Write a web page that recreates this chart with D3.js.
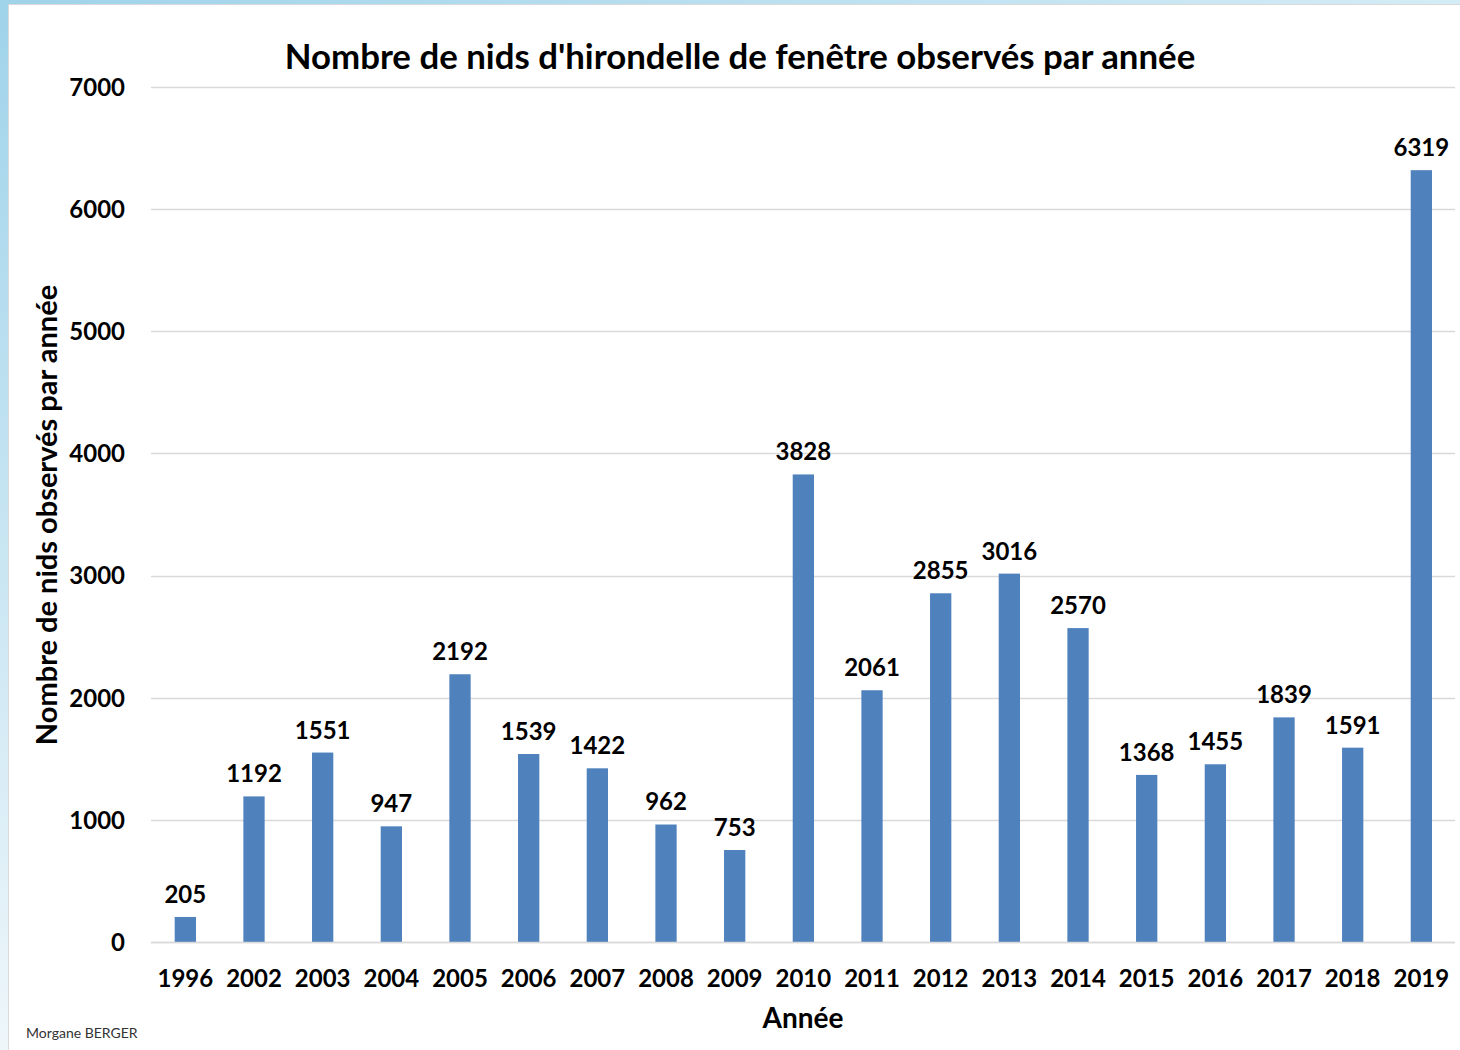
<!DOCTYPE html>
<html><head><meta charset="utf-8">
<script src="https://cdn.jsdelivr.net/npm/d3@7"></script>
<style>
html,body{margin:0;padding:0;}
body{width:1460px;height:1050px;overflow:hidden;background:#fff;}
</style></head>
<body>
<svg id="c" width="1460" height="1050"></svg>
<script>
const years = ["1996","2002","2003","2004","2005","2006","2007","2008","2009","2010","2011","2012","2013","2014","2015","2016","2017","2018","2019"];
const nests = [205,1192,1551,947,2192,1539,1422,962,753,3828,2061,2855,3016,2570,1368,1455,1839,1591,6319];
const yTicks = [0,1000,2000,3000,4000,5000,6000,7000];
const titleText = "Nombre de nids d'hirondelle de fenêtre observés par année";
const yTitle = "Nombre de nids observés par année";
const xTitle = "Année";
const credit = "Morgane BERGER";

const svg = d3.select("#c");
const FONT = "Lato, 'Open Sans', sans-serif";

// background frame
const defs = svg.append("defs");
const gTop = defs.append("linearGradient").attr("id","gt").attr("x1","0").attr("x2","1").attr("y1","0").attr("y2","0");
gTop.append("stop").attr("offset","0").attr("stop-color","#9fd3ea");
gTop.append("stop").attr("offset","1").attr("stop-color","#d4ecf6");
const gLeft = defs.append("linearGradient").attr("id","gl").attr("x1","0").attr("x2","0").attr("y1","0").attr("y2","1");
gLeft.append("stop").attr("offset","0").attr("stop-color","#9fd3ea");
gLeft.append("stop").attr("offset","1").attr("stop-color","#eef6fa");
svg.append("rect").attr("x",0).attr("y",0).attr("width",1460).attr("height",5).attr("fill","url(#gt)");
svg.append("rect").attr("x",0).attr("y",0).attr("width",9).attr("height",1050).attr("fill","url(#gl)");
svg.append("rect").attr("x",8.5).attr("y",4.5).attr("width",1460).attr("height",1050).attr("fill","#fff").attr("stroke","#d9d9d9");

const x = d3.scaleBand().domain(years).range([151,1455.7]).paddingInner(0.69).paddingOuter(0.345);
const y = d3.scaleLinear().domain([0,7000]).range([942,87]);

// gridlines
svg.append("g").selectAll("line").data(yTicks).join("line")
  .attr("x1",151).attr("x2",1455).attr("y1",d=>Math.round(y(d))+0.5).attr("y2",d=>Math.round(y(d))+0.5)
  .attr("stroke","#d9d9d9").attr("stroke-width",1.3);

// y axis labels
const yAxis = d3.axisLeft(y).tickValues(yTicks).tickSize(0).tickPadding(0).tickFormat(d3.format("d"));
const ya = svg.append("g").attr("transform","translate(125,0)").call(yAxis);
ya.select(".domain").remove();
ya.selectAll("text").attr("font-family",FONT).attr("font-weight","bold").attr("font-size","24px").attr("fill","#000").attr("dy","0.35em");

// bars
svg.append("g").selectAll("rect").data(nests).join("rect")
  .attr("x",(d,i)=>x(years[i])).attr("width",x.bandwidth())
  .attr("y",d=>y(d)).attr("height",d=>y(0)-y(d)).attr("fill","#4f81bd");

// value labels
svg.append("g").selectAll("text").data(nests).join("text")
  .attr("x",(d,i)=>x(years[i])+x.bandwidth()/2).attr("y",d=>y(d)-14)
  .attr("text-anchor","middle").attr("font-family",FONT).attr("font-weight","bold").attr("font-size","24px").attr("fill","#000")
  .text(d=>d);

// x axis labels
const xAxis = d3.axisBottom(x).tickSize(0).tickPadding(0);
const xa = svg.append("g").attr("transform","translate(0,987)").call(xAxis);
xa.select(".domain").remove();
xa.selectAll("text").attr("font-family",FONT).attr("font-weight","bold").attr("font-size","24px").attr("fill","#000").attr("dy","0");

// baseline
svg.append("line").attr("x1",151).attr("x2",1455).attr("y1",942.5).attr("y2",942.5).attr("stroke","#d9d9d9").attr("stroke-width",1.5);

// titles
svg.append("text").attr("x",740).attr("y",69).attr("text-anchor","middle")
  .attr("font-family",FONT).attr("font-weight","bold").attr("font-size","34.8px").attr("fill","#000").text(titleText);
svg.append("text").attr("transform","translate(57,515) rotate(-90)").attr("text-anchor","middle")
  .attr("font-family",FONT).attr("font-weight","bold").attr("font-size","29px").attr("fill","#000").text(yTitle);
svg.append("text").attr("x",803).attr("y",1028).attr("text-anchor","middle")
  .attr("font-family",FONT).attr("font-weight","bold").attr("font-size","28px").attr("fill","#000").text(xTitle);
svg.append("text").attr("x",26).attr("y",1038)
  .attr("font-family",FONT).attr("font-size","14px").attr("fill","#333").text(credit);
</script>
</body></html>
